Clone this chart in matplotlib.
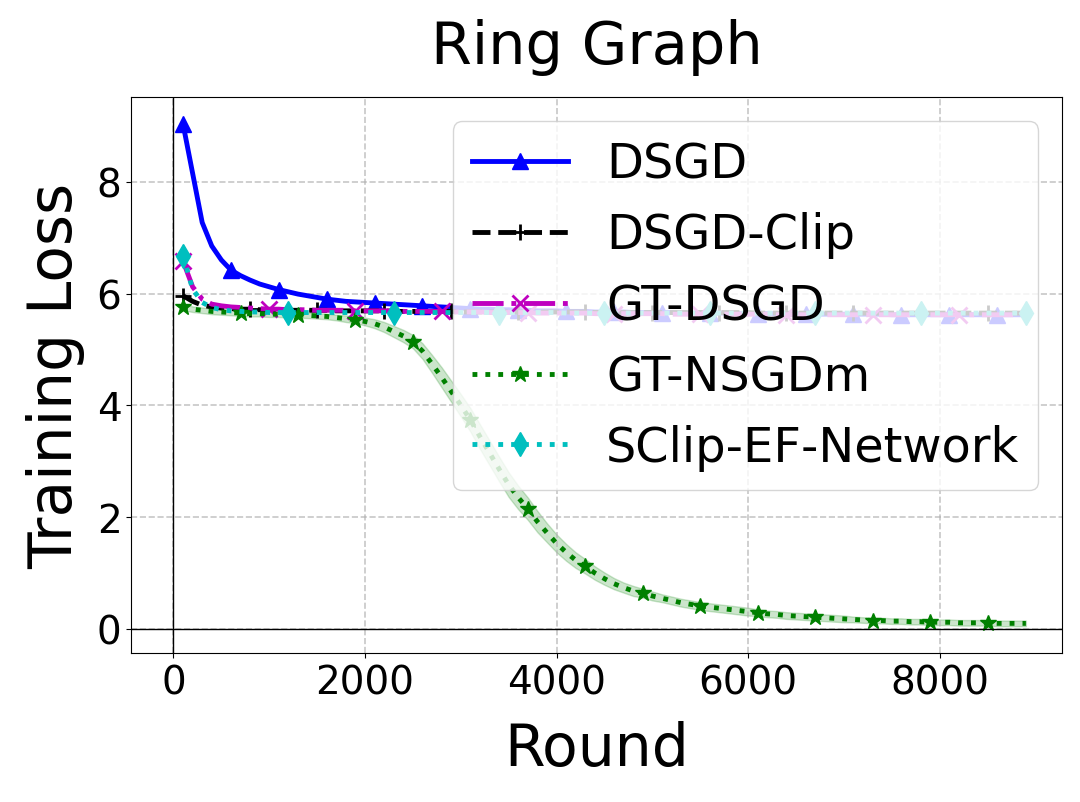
import numpy as np
import matplotlib
matplotlib.use("Agg")
import matplotlib.pyplot as plt

# rounds at which the loss was logged
rounds = np.arange(100, 8901, 100)

dsgd = [9.03, 8.15, 7.27, 6.85, 6.60, 6.42, 6.32, 6.24, 6.17, 6.12,
        6.07, 6.03, 5.99, 5.96, 5.93, 5.90, 5.88, 5.86, 5.85, 5.84,
        5.83, 5.82, 5.81, 5.80, 5.79, 5.78, 5.77, 5.76, 5.75, 5.74,
        5.73, 5.72, 5.72, 5.71, 5.71, 5.70, 5.70, 5.69, 5.69, 5.69,
        5.68, 5.68, 5.68, 5.67, 5.67, 5.67, 5.67, 5.66, 5.66, 5.66,
        5.66, 5.66, 5.65, 5.65, 5.65, 5.65, 5.65, 5.65, 5.64, 5.64,
        5.64, 5.64, 5.64, 5.64, 5.64, 5.63, 5.63, 5.63, 5.63, 5.63,
        5.63, 5.63, 5.63, 5.63, 5.62, 5.62, 5.62, 5.62, 5.62, 5.62,
        5.62, 5.62, 5.62, 5.62, 5.62, 5.62, 5.62, 5.62, 5.62]

dsgd_clip = [5.96, 5.86, 5.79, 5.76, 5.74, 5.73, 5.72, 5.72, 5.71, 5.71,
             5.71, 5.70, 5.70, 5.70, 5.70, 5.70, 5.69, 5.69, 5.69, 5.69,
             5.69, 5.69, 5.68, 5.68, 5.68, 5.68, 5.68, 5.68, 5.68, 5.67,
             5.67, 5.67, 5.67, 5.67, 5.67, 5.67, 5.67, 5.67, 5.67, 5.67,
             5.67, 5.67, 5.67, 5.66, 5.66, 5.66, 5.66, 5.66, 5.66, 5.66,
             5.66, 5.66, 5.66, 5.66, 5.66, 5.66, 5.66, 5.66, 5.66, 5.66,
             5.65, 5.65, 5.65, 5.65, 5.65, 5.65, 5.65, 5.65, 5.65, 5.65,
             5.65, 5.65, 5.65, 5.65, 5.65, 5.65, 5.65, 5.65, 5.65, 5.65,
             5.65, 5.65, 5.65, 5.65, 5.65, 5.65, 5.65, 5.65, 5.65]

gt_dsgd = [6.58, 6.12, 5.90, 5.81, 5.78, 5.76, 5.75, 5.74, 5.73, 5.72,
           5.72, 5.71, 5.71, 5.71, 5.70, 5.70, 5.70, 5.70, 5.69, 5.69,
           5.69, 5.69, 5.69, 5.68, 5.68, 5.68, 5.68, 5.68, 5.67, 5.67,
           5.67, 5.67, 5.66, 5.66, 5.66, 5.66, 5.66, 5.65, 5.65, 5.65,
           5.65, 5.65, 5.65, 5.64, 5.64, 5.64, 5.64, 5.64, 5.64, 5.64,
           5.64, 5.63, 5.63, 5.63, 5.63, 5.63, 5.63, 5.63, 5.63, 5.63,
           5.63, 5.63, 5.62, 5.62, 5.62, 5.62, 5.62, 5.62, 5.62, 5.62,
           5.62, 5.62, 5.62, 5.62, 5.62, 5.62, 5.62, 5.62, 5.62, 5.62,
           5.62, 5.62, 5.62, 5.62, 5.62, 5.62, 5.62, 5.62, 5.62]

gt_nsgdm = [5.75, 5.72, 5.70, 5.68, 5.67, 5.66, 5.65, 5.64, 5.64, 5.63,
            5.63, 5.62, 5.62, 5.61, 5.60, 5.59, 5.57, 5.55, 5.53, 5.50,
            5.46, 5.40, 5.32, 5.24, 5.14, 4.97, 4.74, 4.50, 4.25, 4.00,
            3.74, 3.44, 3.15, 2.86, 2.58, 2.35, 2.15, 1.92, 1.72, 1.53,
            1.37, 1.23, 1.12, 1.00, 0.90, 0.81, 0.74, 0.68, 0.64, 0.59,
            0.55, 0.51, 0.47, 0.44, 0.41, 0.39, 0.37, 0.35, 0.33, 0.31,
            0.29, 0.27, 0.26, 0.24, 0.23, 0.22, 0.21, 0.20, 0.19, 0.18,
            0.17, 0.16, 0.15, 0.15, 0.14, 0.14, 0.13, 0.13, 0.12, 0.12,
            0.12, 0.11, 0.11, 0.11, 0.11, 0.10, 0.10, 0.10, 0.10]

gt_nsgdm_std = [0.05, 0.05, 0.05, 0.05, 0.05, 0.05, 0.05, 0.05, 0.05, 0.05,
                0.05, 0.05, 0.05, 0.05, 0.05, 0.05, 0.05, 0.06, 0.06, 0.07,
                0.08, 0.09, 0.10, 0.11, 0.12, 0.14, 0.16, 0.18, 0.19, 0.20,
                0.21, 0.22, 0.22, 0.22, 0.22, 0.21, 0.20, 0.19, 0.17, 0.16,
                0.15, 0.14, 0.13, 0.12, 0.11, 0.10, 0.09, 0.09, 0.08, 0.08,
                0.07, 0.07, 0.07, 0.07, 0.07, 0.07, 0.07, 0.07, 0.07, 0.07,
                0.06, 0.06, 0.06, 0.06, 0.06, 0.06, 0.06, 0.06, 0.06, 0.06,
                0.05, 0.05, 0.05, 0.05, 0.05, 0.05, 0.05, 0.05, 0.05, 0.05,
                0.05, 0.05, 0.05, 0.05, 0.05, 0.05, 0.05, 0.05, 0.05]

sclip_ef = [6.68, 6.08, 5.84, 5.75, 5.71, 5.69, 5.68, 5.67, 5.67, 5.66,
            5.66, 5.66, 5.66, 5.66, 5.66, 5.66, 5.66, 5.66, 5.66, 5.66,
            5.66, 5.66, 5.66, 5.66, 5.66, 5.66, 5.66, 5.66, 5.66, 5.66,
            5.66, 5.66, 5.66, 5.66, 5.66, 5.66, 5.66, 5.66, 5.66, 5.66,
            5.65, 5.65, 5.65, 5.65, 5.65, 5.65, 5.65, 5.65, 5.65, 5.65,
            5.65, 5.65, 5.65, 5.65, 5.65, 5.65, 5.65, 5.65, 5.65, 5.65,
            5.65, 5.65, 5.65, 5.65, 5.65, 5.65, 5.65, 5.65, 5.65, 5.65,
            5.65, 5.65, 5.65, 5.65, 5.65, 5.65, 5.65, 5.65, 5.65, 5.65,
            5.65, 5.65, 5.65, 5.65, 5.65, 5.65, 5.65, 5.65, 5.65]

fig = plt.figure(figsize=(10.8, 8.03), dpi=100)
ax = fig.add_axes([0.1216, 0.1852, 0.862, 0.6924])

ax.plot(rounds, dsgd, 'b-', marker='^', markevery=5, lw=3.5, ms=12, label='DSGD')
ax.plot(rounds, dsgd_clip, 'k--', marker='+', markevery=7, lw=3.5, ms=12,
        mew=2, label='DSGD-Clip')
ax.plot(rounds, gt_dsgd, 'm-.', marker='x', markevery=9, lw=3.5, ms=12,
        mew=2, label='GT-DSGD')
ax.plot(rounds, gt_nsgdm, 'g:', marker='*', markevery=6, lw=3.5, ms=12,
        label='GT-NSGDm')
lo = np.array(gt_nsgdm) - np.array(gt_nsgdm_std)
hi = np.array(gt_nsgdm) + np.array(gt_nsgdm_std)
ax.fill_between(rounds, lo, hi, color='g', alpha=0.2)
ax.plot(rounds, sclip_ef, 'c:', marker='d', markevery=11, lw=3.5, ms=12,
        label='SClip-EF-Network')

ax.axhline(0, color='k', lw=1)
ax.axvline(0, color='k', lw=1)

ax.set_xlim(-440, 9280)
ax.set_ylim(-0.435, 9.51)
ax.set_xticks([0, 2000, 4000, 6000, 8000])
ax.set_yticks([0, 2, 4, 6, 8])
ax.tick_params(labelsize=28)
ax.grid(True, linestyle='--', lw=1.2, alpha=0.7)

ax.set_title('Ring Graph', fontsize=42.5, pad=25)
ax.set_xlabel('Round', fontsize=42, labelpad=14)
ax.set_ylabel('Training Loss', fontsize=43, labelpad=8)
ax.legend(fontsize=34.5, loc='upper right')

fig.savefig('out.png', dpi=100)
